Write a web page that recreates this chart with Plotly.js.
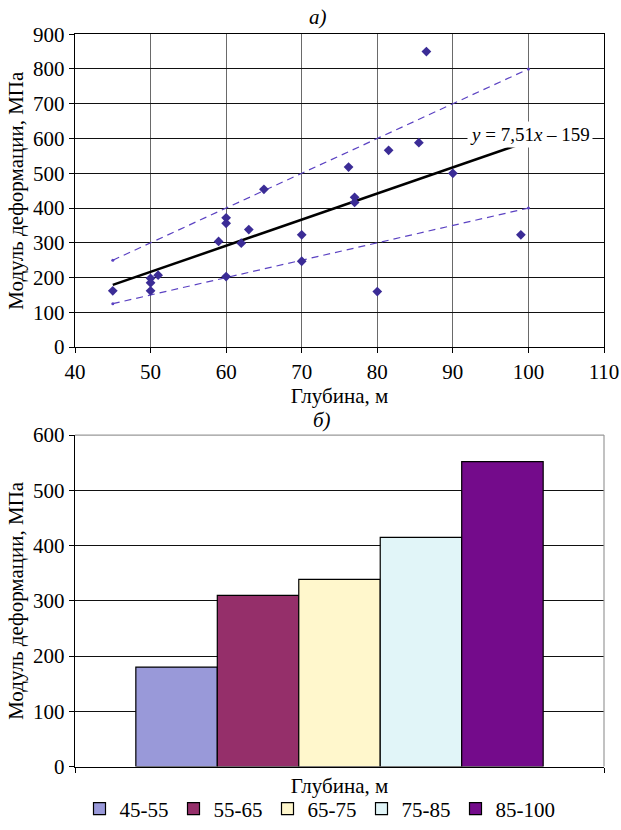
<!DOCTYPE html>
<html>
<head>
<meta charset="utf-8">
<script src="https://cdn.plot.ly/plotly-3.0.1.min.js"></script>
<style>
  html, body { margin: 0; padding: 0; background: #fff; }
  #chart { width: 621px; height: 830px; }
</style>
</head>
<body>
<div id="chart"></div>
<script>
// Scatter: depth of each test (m) and measured deformation modulus (MPa)
const depthX   = [45, 50, 50, 50, 51, 59, 60, 60, 60, 62, 63, 65, 70, 70, 76.2, 77, 77, 80, 81.5, 85.5, 86.5, 90, 99];
const modulusY = [162, 198, 185, 162, 207, 304, 372, 356, 203, 299, 338, 454, 323, 247, 518, 431, 416, 160, 566, 588, 850, 500, 323];

// Linear regression y = 7,51x – 159 over the tested depth span
const trendSlope = 7.51;
const trendIntercept = -159;
const trendX = [45, 99];

// Upper and lower envelope of the scatter
const boundX = [45, 100];
const upperY = [250, 800];
const lowerY = [125, 400];

// Averages by depth interval
const depthRanges = ['45-55', '55-65', '65-75', '75-85', '85-100'];
const meanModulus = [180, 310, 339, 415, 552];
const rangeColors = ['#9999D9', '#952F6A', '#FFF7CC', '#E1F5F8', '#740B8B'];
const barGroup = ['all'];

const serif = 'Liberation Serif';
const pointColor = '#3B2C96';
const envColor = '#5B42C2';

const trendY = trendX.map(x => trendSlope * x + trendIntercept);
const fmt = v => String(v).replace('.', ',');
const trendText = '<i>y</i> = ' + fmt(trendSlope.toFixed(2)) + '<i>x</i> – ' + fmt(Math.abs(trendIntercept));

const traces = [
  {
    type: 'scatter', mode: 'lines+markers', x: boundX, y: upperY,
    xaxis: 'x', yaxis: 'y', showlegend: false, hoverinfo: 'skip',
    line: { color: envColor, width: 1.2, dash: '7px,5px' },
    marker: { size: 3, color: envColor }
  },
  {
    type: 'scatter', mode: 'lines+markers', x: boundX, y: lowerY,
    xaxis: 'x', yaxis: 'y', showlegend: false, hoverinfo: 'skip',
    line: { color: envColor, width: 1.2, dash: '7px,5px' },
    marker: { size: 3, color: envColor }
  },
  {
    type: 'scatter', mode: 'lines', x: trendX, y: trendY,
    xaxis: 'x', yaxis: 'y', showlegend: false,
    line: { color: '#000', width: 2.5 }
  },
  {
    type: 'scatter', mode: 'markers', x: depthX, y: modulusY,
    xaxis: 'x', yaxis: 'y', showlegend: false,
    marker: { symbol: 'diamond', size: 7.5, color: pointColor }
  }
];

depthRanges.forEach((name, i) => {
  traces.push({
    type: 'bar', x: barGroup, y: [meanModulus[i]], name: name,
    xaxis: 'x2', yaxis: 'y2',
    marker: { color: rangeColors[i], line: { color: '#000', width: 1.2 } }
  });
});

const tickFont = { family: serif, size: 21, color: '#000' };
const titleFont = { family: serif, size: 21, color: '#000' };

// Figure coordinates: plots are placed by pixel-derived domains (no top/bottom margin)
const H = 830;
const py = px => (H - px) / H;

const layout = {
  width: 621, height: H,
  margin: { l: 75, r: 17, t: 0, b: 0 },
  paper_bgcolor: '#fff', plot_bgcolor: '#fff',
  font: { family: serif, size: 21, color: '#000' },
  barmode: 'group', bargap: 0.23, bargroupgap: 0,
  xaxis: {
    domain: [0, 1], anchor: 'y', range: [40, 110], tick0: 40, dtick: 10,
    showline: true, linecolor: '#000', linewidth: 1.2, mirror: true,
    showgrid: true, gridcolor: '#6a6a6a', gridwidth: 1,
    ticks: 'outside', ticklen: 5, tickcolor: '#000', zeroline: false,
    tickfont: tickFont, automargin: true,
    title: { text: 'Глубина, м', font: titleFont, standoff: 0 }
  },
  yaxis: {
    domain: [py(348.4), py(34.3)], anchor: 'x', range: [0, 900], tick0: 0, dtick: 100,
    showline: true, linecolor: '#000', linewidth: 1.2, mirror: true,
    showgrid: true, gridcolor: '#111', gridwidth: 1,
    ticks: 'outside', ticklen: 5, tickcolor: '#000', zeroline: false,
    tickfont: tickFont,
    title: { text: 'Модуль деформации, МПа', font: titleFont }
  },
  xaxis2: {
    domain: [0, 1], anchor: 'y2', type: 'category',
    showticklabels: false, ticks: 'outside', tickson: 'boundaries', ticklen: 5, tickcolor: '#000',
    showline: true, linecolor: '#000', linewidth: 1.2, showgrid: false, zeroline: false,
    automargin: true,
    title: { text: 'Глубина, м', font: titleFont, standoff: 11 }
  },
  yaxis2: {
    domain: [py(769.3), py(436.7)], anchor: 'x2', range: [0, 600], tick0: 0, dtick: 100,
    showline: true, linecolor: '#000', linewidth: 1.2,
    showgrid: true, gridcolor: '#111', gridwidth: 1,
    ticks: 'outside', ticklen: 5, tickcolor: '#000', zeroline: false,
    tickfont: tickFont,
    title: { text: 'Модуль деформации, МПа', font: titleFont }
  },
  legend: {
    orientation: 'h', x: (320 - 75) / 529, xanchor: 'center', y: py(812), yanchor: 'middle',
    font: { family: serif, size: 21, color: '#000' }, bgcolor: 'rgba(0,0,0,0)'
  },
  shapes: [
    { type: 'line', xref: 'x2 domain', yref: 'y2 domain', x0: 0, x1: 1, y0: 1, y1: 1,
      line: { color: '#999', width: 1.2 }, layer: 'above' },
    { type: 'line', xref: 'x2 domain', yref: 'y2 domain', x0: 1, x1: 1, y0: 0, y1: 1,
      line: { color: '#999', width: 1.2 }, layer: 'above' }
  ],
  annotations: [
    { text: '<i>а)</i>', xref: 'paper', yref: 'paper', x: (318 - 75) / 529, y: py(17),
      yanchor: 'middle', showarrow: false, font: { family: serif, size: 21 } },
    { text: '<i>б)</i>', xref: 'paper', yref: 'paper', x: (322 - 75) / 529, y: py(422),
      yanchor: 'middle', showarrow: false, font: { family: serif, size: 21 } },
    { text: trendText, xref: 'x', yref: 'y', x: 100.2, y: 611,
      showarrow: false, bgcolor: '#fff', borderpad: 2, font: { family: serif, size: 19 } }
  ]
};

Plotly.newPlot('chart', traces, layout, { displayModeBar: false, staticPlot: true });
</script>
</body>
</html>
